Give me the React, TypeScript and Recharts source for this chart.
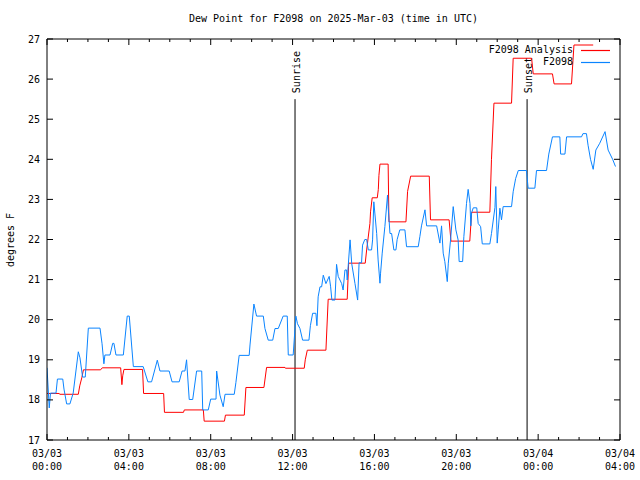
import { Legend, Line, LineChart, ReferenceLine, XAxis, YAxis } from "recharts"

// hours since 03/03 00:00 UTC
const blueTimes = [
    0, 0.11, 0.17, 0.44, 0.51, 0.77, 0.83, 0.96, 1.12, 1.28,
    1.53, 1.61, 1.74, 1.87, 2.02, 2.59, 2.69, 2.78, 2.83, 3.08,
    3.21, 3.27, 3.37, 3.73, 3.92, 4.02, 4.22, 4.7, 4.93, 5.11,
    5.39, 5.52, 5.97, 6.11, 6.46, 6.6, 6.74, 6.82, 6.95, 7.12,
    7.31, 7.56, 7.61, 7.88, 8.0, 8.26, 8.29, 8.45, 8.61, 8.7,
    9.15, 9.23, 9.39, 9.88, 9.92, 10.11, 10.24, 10.57, 10.65, 10.81,
    11.03, 11.14, 11.3, 11.54, 11.74, 11.79, 12.03, 12.16, 12.24, 12.36,
    12.49, 12.8, 12.87, 12.98, 13.14, 13.19, 13.25, 13.34, 13.42, 13.5,
    13.63, 13.79, 13.86, 13.92, 14.07, 14.15, 14.23, 14.4, 14.47, 14.56,
    14.64, 14.67, 14.81, 14.89, 15.05, 15.18, 15.25, 15.37, 15.42, 15.53,
    15.62, 15.7, 15.86, 15.91, 15.97, 16.02, 16.11, 16.18, 16.27, 16.3,
    16.38, 16.51, 16.64, 16.67, 16.76, 16.84, 16.95, 17.05, 17.11, 17.24,
    17.49, 17.57, 18.14, 18.22, 18.3, 18.47, 18.55, 19.04, 19.2, 19.28,
    19.36, 19.44, 19.56, 19.61, 19.72, 19.85, 19.98, 20.09, 20.14, 20.31,
    20.37, 20.5, 20.58, 20.67, 20.71, 20.75, 20.83, 21.0, 21.07, 21.19,
    21.27, 21.64, 21.72, 21.89, 21.93, 22.0, 22.05, 22.13, 22.21, 22.29,
    22.7, 22.78, 22.9, 23.03, 23.43, 23.51, 23.84, 23.92, 24.41, 24.52,
    24.7, 25.06, 25.1, 25.31, 25.39, 26.12, 26.19, 26.36, 26.44, 26.56,
    26.69, 26.82, 27.01, 27.27, 27.42, 27.64, 27.78,
]
const blueValues = [
    18.8, 17.8, 18.17, 18.17, 18.52, 18.52, 18.27, 17.9, 17.9, 18.17,
    19.2, 19.05, 18.57, 18.57, 19.79, 19.79, 19.4, 18.9, 19.12, 19.12,
    19.41, 19.41, 19.12, 19.12, 20.09, 20.09, 18.83, 18.83, 18.45, 18.45,
    18.99, 18.72, 18.72, 18.45, 18.45, 18.72, 18.72, 19.0, 18.01, 18.01,
    18.72, 18.72, 17.75, 17.75, 18.02, 18.02, 18.72, 18.12, 17.83, 18.14,
    18.14, 18.43, 19.11, 19.11, 19.37, 20.39, 20.09, 20.09, 19.78, 19.49,
    19.49, 19.78, 19.78, 20.09, 20.09, 19.12, 19.12, 20.09, 19.9, 19.78,
    19.49, 19.49, 19.85, 20.16, 20.16, 19.85, 20.57, 20.82, 20.82, 21.11,
    20.9, 21.08, 20.82, 20.49, 20.49, 21.38, 21.08, 20.9, 20.74, 21.24,
    21.24, 20.99, 21.99, 21.4, 20.9, 20.49, 21.42, 21.42, 21.86, 22.0,
    22.0, 21.74, 21.74, 21.99, 22.94, 22.66, 22.15, 21.49, 20.91, 21.16,
    21.66, 22.32, 23.11, 22.82, 22.15, 22.15, 21.74, 21.74, 22.0, 22.24,
    22.24, 21.82, 21.82, 22.07, 22.34, 22.74, 22.34, 22.34, 21.91, 22.34,
    21.66, 21.45, 20.95, 21.41, 21.99, 22.82, 22.24, 21.99, 21.45, 21.45,
    22.07, 22.9, 23.25, 22.9, 22.34, 22.67, 22.79, 22.79, 22.4, 22.32,
    21.89, 21.89, 22.15, 22.8, 23.32, 21.91, 22.24, 22.78, 22.49, 22.82,
    22.82, 23.19, 23.52, 23.72, 23.72, 23.28, 23.28, 23.72, 23.72, 24.13,
    24.56, 24.56, 24.13, 24.13, 24.56, 24.56, 24.64, 24.64, 24.35, 24.0,
    23.75, 24.23, 24.4, 24.69, 24.23, 24.0, 23.82,
]

const redTimes = [
    0, 0.6, 0.62, 1.53, 1.6, 1.7, 1.78, 2.62, 2.7, 3.6,
    3.66, 3.7, 3.76, 4.67, 4.72, 5.7, 5.74, 6.67, 6.71, 7.64,
    7.68, 8.67, 8.72, 9.64, 9.72, 10.6, 10.73, 11.63, 11.65, 12.57,
    12.62, 12.72, 13.63, 13.74, 14.67, 14.74, 15.55, 15.62, 15.78, 15.81,
    15.89, 16.14, 16.19, 16.22, 16.27, 16.67, 16.71, 17.54, 17.62, 17.77,
    18.68, 18.74, 19.65, 19.74, 20.66, 20.75, 21.64, 21.72, 21.84, 22.7,
    22.78, 23.68, 23.76, 24.7, 24.78, 25.63, 25.75, 26.69,
]
const redValues = [
    18.16, 18.16, 18.14, 18.14, 18.35, 18.55, 18.75, 18.75, 18.8, 18.8,
    18.38, 18.6, 18.76, 18.76, 18.16, 18.16, 17.69, 17.69, 17.75, 17.75,
    17.47, 17.47, 17.62, 17.62, 18.31, 18.31, 18.81, 18.81, 18.79, 18.79,
    19.0, 19.24, 19.24, 20.51, 20.51, 21.41, 21.41, 21.74, 22.4, 22.69,
    23.04, 23.04, 23.25, 23.6, 23.88, 23.88, 22.44, 22.44, 23.2, 23.58,
    23.58, 22.49, 22.49, 21.96, 21.96, 22.68, 22.68, 24.0, 25.4, 25.4,
    26.52, 26.52, 26.13, 26.13, 25.88, 25.88, 26.85, 26.85,
]

const majorHours = [0, 4, 8, 12, 16, 20, 24, 28]
const tickDates = ["03/03", "03/03", "03/03", "03/03", "03/03", "03/03", "03/04", "03/04"]
const tickTimes = ["00:00", "04:00", "08:00", "12:00", "16:00", "20:00", "00:00", "04:00"]
const yTicks = [17, 18, 19, 20, 21, 22, 23, 24, 25, 26, 27]

const sunrise = 12.12
const sunset = 23.46

const MONO = "'DejaVu Sans Mono', 'Liberation Mono', monospace"
const RED = "#ff0000"
const BLUE = "#0a84ff"

const hourTicks = Array.from({ length: 29 }, (_, i) => i)
const blueData = blueTimes.map((t, i) => ({ t, v: blueValues[i] }))
const redData = redTimes.map((t, i) => ({ t, v: redValues[i] }))

const legendItems = [
    { name: "F2098 Analysis", color: RED },
    { name: "F2098", color: BLUE },
]

function BottomTick({ x, y, payload }: any) {
    const idx = majorHours.indexOf(payload.value)
    const len = idx >= 0 ? 6 : 3
    return (
        <g>
            <line x1={x} x2={x} y1={y} y2={y - len} stroke="#000" />
            {idx >= 0 && (
                <text x={x} y={y + 17} textAnchor="middle" fontSize={10} fontFamily={MONO} fill="#000">
                    <tspan x={x}>{tickDates[idx]}</tspan>
                    <tspan x={x} dy={13}>{tickTimes[idx]}</tspan>
                </text>
            )}
        </g>
    )
}

function TopTick({ x, y, payload }: any) {
    const len = majorHours.includes(payload.value) ? 6 : 3
    return <line x1={x} x2={x} y1={y} y2={y + len} stroke="#000" />
}

function LeftTick({ x, y, payload }: any) {
    return (
        <g>
            <line x1={x} x2={x + 6} y1={y} y2={y} stroke="#000" />
            <text x={x - 7} y={y} dy="0.35em" textAnchor="end" fontSize={10} fontFamily={MONO} fill="#000">
                {payload.value}
            </text>
        </g>
    )
}

function RightTick({ x, y }: any) {
    return <line x1={x} x2={x - 6} y1={y} y2={y} stroke="#000" />
}

function SunLabel({ viewBox, value }: any) {
    const { x, y } = viewBox
    return (
        <text
            transform={`translate(${x + 5}, ${y - 6}) rotate(-90)`}
            textAnchor="start"
            fontSize={10}
            fontFamily={MONO}
            fill="#000"
        >
            {value}
        </text>
    )
}

function LegendBox() {
    return (
        <div style={{ fontFamily: MONO, fontSize: 10, lineHeight: "12px", color: "#000" }}>
            {legendItems.map((it) => (
                <div key={it.name} style={{ display: "flex", justifyContent: "flex-end", alignItems: "center", height: 12 }}>
                    <span>{it.name}</span>
                    <svg width={37} height={12} style={{ display: "block" }}>
                        <line x1={8} x2={37} y1={6.5} y2={6.5} stroke={it.color} strokeWidth={1.2} />
                    </svg>
                </div>
            ))}
        </div>
    )
}

export default function App() {
    return (
        <div style={{ position: "absolute", left: 0, top: 0, width: 640, height: 480, background: "#fff" }}>
            <div
                style={{
                    position: "absolute", left: 47, top: 13, width: 573, textAlign: "center",
                    fontFamily: MONO, fontSize: 10, lineHeight: "12px",
                }}
            >
                Dew Point for F2098 on 2025-Mar-03 (time in UTC)
            </div>
            <div
                style={{
                    position: "absolute", left: 10, top: 240, transform: "translate(-50%, -50%) rotate(-90deg)",
                    fontFamily: MONO, fontSize: 10, whiteSpace: "nowrap",
                }}
            >
                degrees F
            </div>
            <LineChart width={640} height={480} margin={{ top: 0, right: 0, bottom: 0, left: 0 }} style={{ fontFamily: MONO }}>
                <XAxis
                    type="number" dataKey="t" domain={[0, 28]} ticks={hourTicks} interval={0}
                    height={40} tickSize={0} tickMargin={0} tickLine={false}
                    axisLine={{ stroke: "#000" }} tick={(p: any) => <BottomTick {...p} />} allowDataOverflow
                />
                <XAxis
                    xAxisId="top" orientation="top" type="number" dataKey="t" domain={[0, 28]} ticks={hourTicks} interval={0}
                    height={39} tickSize={0} tickMargin={0} tickLine={false}
                    axisLine={{ stroke: "#000" }} tick={(p: any) => <TopTick {...p} />} allowDataOverflow
                />
                <YAxis
                    type="number" domain={[17, 27]} ticks={yTicks} interval={0} width={47}
                    tickSize={0} tickMargin={0} tickLine={false}
                    axisLine={{ stroke: "#000" }} tick={(p: any) => <LeftTick {...p} />} allowDataOverflow
                />
                <YAxis
                    yAxisId="r" orientation="right" type="number" domain={[17, 27]} ticks={yTicks} interval={0} width={20}
                    tickSize={0} tickMargin={0} tickLine={false}
                    axisLine={{ stroke: "#000" }} tick={(p: any) => <RightTick {...p} />} allowDataOverflow
                />
                <ReferenceLine
                    segment={[{ x: sunrise, y: 17 }, { x: sunrise, y: 25.5 }]}
                    stroke="#000"
                    label={(p: any) => <SunLabel {...p} value="Sunrise" />}
                />
                <ReferenceLine
                    segment={[{ x: sunset, y: 17 }, { x: sunset, y: 25.5 }]}
                    stroke="#000"
                    label={(p: any) => <SunLabel {...p} value="Sunset" />}
                />
                <Line data={redData} dataKey="v" type="linear" stroke={RED} strokeWidth={1} dot={false} isAnimationActive={false} />
                <Line data={blueData} dataKey="v" type="linear" stroke={BLUE} strokeWidth={1} dot={false} isAnimationActive={false} />
                <Legend
                    layout="vertical" align="center" verticalAlign="middle"
                    content={() => <LegendBox />}
                    wrapperStyle={{ left: 410, top: 44, width: 200, height: 24 }}
                />
            </LineChart>
        </div>
    )
}
